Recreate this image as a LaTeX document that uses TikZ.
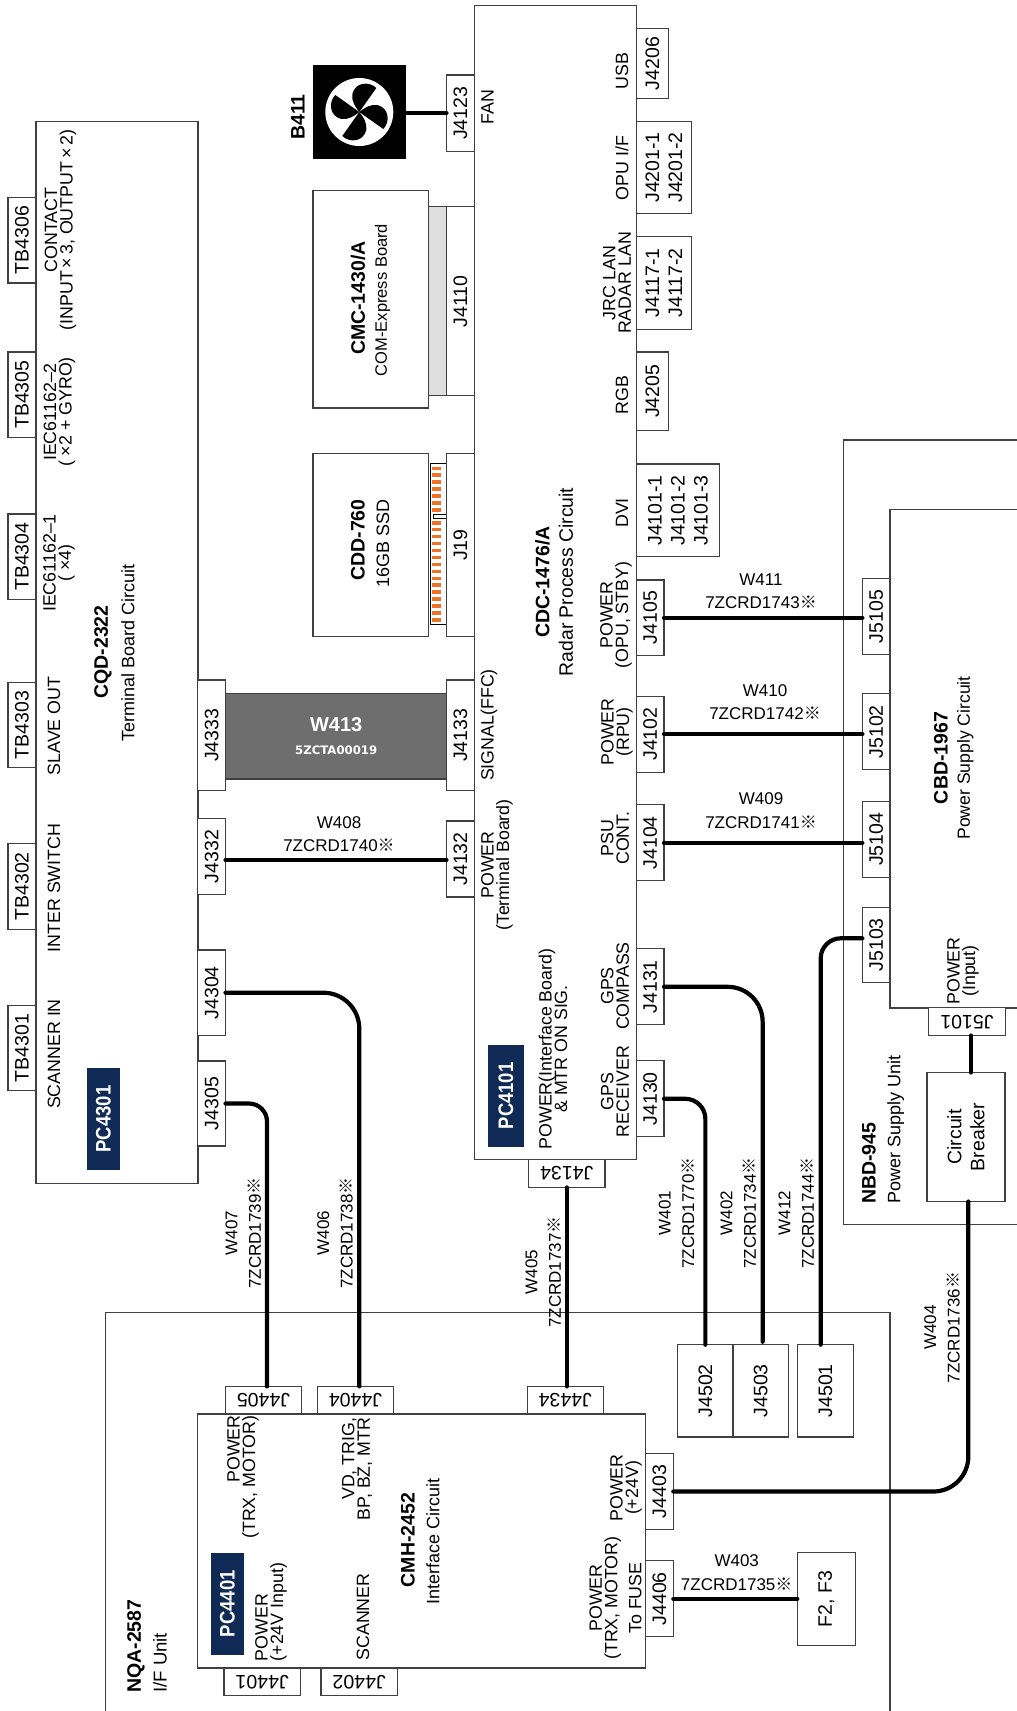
\documentclass[tikz,border=0pt]{standalone}
\usepackage{fontspec}
\setmainfont{Liberation Sans}
\newfontfamily\dvfont{DejaVu Sans}
\newfontfamily\cjk{Noto Sans CJK JP}
\usetikzlibrary{positioning}
\definecolor{navy}{HTML}{0F2A55}
\definecolor{cable}{HTML}{6E6E6E}
\definecolor{strip}{HTML}{DEDEDE}
\definecolor{bar}{HTML}{EE7228}
\setlength{\lineskiplimit}{-30pt}
\newcommand{\kome}{{\cjk ※}}
\tikzset{
  box/.style={draw=black!75,line width=1.1pt,fill=white,inner sep=0pt,outer sep=0pt,align=center,font=\fontsize{19.5}{23}\selectfont},
  board/.style={box,minimum width=#1},
  jv/.style={box,rotate=90,minimum width=#1,minimum height=27.6},
  jv/.default=76,
  jd/.style={box,rotate=180,minimum width=#1,minimum height=27.6},
  jd/.default=76.4,
  lab/.style={rotate=90,align=center,inner sep=0pt,font=\fontsize{#1}{15.5}\selectfont},
  lab/.default=17.8,
  ttl/.style={rotate=90,inner sep=0pt,font=\fontsize{19.5}{20}\selectfont\bfseries},
  sub/.style={rotate=90,inner sep=0pt,font=\fontsize{#1}{20}\selectfont},
  sub/.default=18,
  pcb/.style={fill=navy,text=white,rotate=90,inner sep=0pt,font=\fontsize{21}{22}\selectfont\bfseries},
  wlab/.style={align=center,inner sep=0pt,font=\fontsize{17}{23.5}\selectfont},
  wlabv/.style={wlab,rotate=90},
  wire/.style={line width=4.2pt,line cap=round,draw=black},
  frame/.style={draw=black!75,line width=1.1pt},
}
\begin{document}
\begin{tikzpicture}[x=1pt,y=-1pt]
\useasboundingbox (0,0) rectangle (1017,1711);
\draw[frame] (1017,440) -- (843.7,440) -- (843.7,1224.7) -- (1017,1224.7);
\draw[frame] (1017,509.3) -- (890,509.3) -- (890,1008) -- (1017,1008);
\draw[frame] (105.3,1711) -- (105.3,1312.7) -- (890,1312.7) -- (890,1711);
\node[board=162,minimum height=1061.7] (cqd) at (117,652.2) {};
\node[board=161.9,minimum height=1154] (cdc) at (555.45,582.75) {};
\node[board=115.7,minimum height=217.4] (cmc) at (370.85,299.3) {};
\node[board=115.7,minimum height=182.6] (cdd) at (370.85,545.1) {};
\node[board=448.4,minimum height=254] (cmh) at (421.5,1541) {};
\node[box,rotate=90,minimum width=85.5,minimum height=28] (TB4306) at (22,240.2) {TB4306};
\node[box,rotate=90,minimum width=85.5,minimum height=28] (TB4305) at (22,394.7) {TB4305};
\node[box,rotate=90,minimum width=85.5,minimum height=28] (TB4304) at (22,556.7) {TB4304};
\node[box,rotate=90,minimum width=85.5,minimum height=28] (TB4303) at (22,725) {TB4303};
\node[box,rotate=90,minimum width=85.5,minimum height=28] (TB4302) at (22,886.4) {TB4302};
\node[box,rotate=90,minimum width=85.5,minimum height=28] (TB4301) at (22,1048) {TB4301};
\node[jv=110.6] (J4333) at (211.7,735.3) {J4333};
\node[jv=110.6] (J4133) at (460.3,735.3) {J4133};
\node[jv] (J4332) at (211.7,856.5) {J4332};
\node[jv] (J4132) at (460.3,859) {J4132};
\node[jv=85.5] (J4304) at (211.7,992.7) {J4304};
\node[jv=85] (J4305) at (211.7,1103.5) {J4305};
\node[jv=76.5] (J4123) at (460.3,113.2) {J4123};
\node[jv=189] (J4110) at (460.3,301.2) {J4110};
\node[jv=182.6] (J19) at (460.3,545.1) {J19};
\node[box,rotate=90,minimum width=189,minimum height=18,fill=strip] (cmcs) at (437.7,301.2) {};
\node[box,rotate=90,minimum width=69.6,minimum height=32.1] (J4206) at (652.4,63.5) {J4206};
\node[box,rotate=90,minimum width=92.2,minimum height=55] (J4201) at (664,167.4) {J4201-1\\J4201-2};
\node[box,rotate=90,minimum width=92.2,minimum height=55] (J4117) at (664,283) {J4117-1\\J4117-2};
\node[box,rotate=90,minimum width=78.5,minimum height=32.1] (J4205) at (652.4,391.2) {J4205};
\node[box,rotate=90,minimum width=92.8,minimum height=83.1] (J4101) at (678,510.4) {J4101-1\\J4101-2\\J4101-3};
\node[jv=75.5] (J4105) at (650.2,617.7) {J4105};
\node[jv] (J4102) at (650.2,734.1) {J4102};
\node[jv] (J4104) at (650.2,842.8) {J4104};
\node[jv] (J4131) at (650.2,986.8) {J4131};
\node[jv] (J4130) at (650.2,1098.8) {J4130};
\node[jd] (J4134) at (566.8,1173.6) {J4134};
\node[jv] (J5105) at (876.2,616.6) {J5105};
\node[jv] (J5102) at (876.2,731.8) {J5102};
\node[jv] (J5104) at (876.2,839.2) {J5104};
\node[jv=75] (J5103) at (876.2,944.8) {J5103};
\node[jd] (J5101) at (967,1021.7) {J5101};
\node[box,rotate=90,minimum width=129,minimum height=78] (cb) at (966,1137) {Circuit\\Breaker};
\node[box,rotate=90,minimum width=92.3,minimum height=55.3] (J4502) at (705.35,1390.85) {J4502};
\node[box,rotate=90,minimum width=92.3,minimum height=55.3] (J4503) at (760.65,1390.85) {J4503};
\node[box,rotate=90,minimum width=92.3,minimum height=55.6] (J4501) at (825.5,1390.85) {J4501};
\node[jd] (J4405) at (263.5,1400.2) {J4405};
\node[jd] (J4404) at (355.5,1400.2) {J4404};
\node[jd] (J4434) at (565.3,1400.2) {J4434};
\node[jd] (J4401) at (262.2,1682) {J4401};
\node[jd] (J4402) at (359.2,1682) {J4402};
\node[jv=76.4] (J4403) at (659.5,1491.5) {J4403};
\node[jv] (J4406) at (659.5,1598.7) {J4406};
\node[box,rotate=90,minimum width=92.3,minimum height=58] (f23) at (826.3,1598.9) {F2, F3};
\node[box,fill=cable,minimum width=221,minimum height=85.3,text=white] (W413) at (336.2,736.35) {{\fontsize{20}{22.5}\selectfont\bfseries W413}\\{\dvfont\fontsize{11.7}{22.5}\selectfont\bfseries 5ZCTA00019}};
\node[fill=black,minimum width=93.3,minimum height=93.4,inner sep=0pt,outer sep=0pt] (fan) at (359.3,112) {};
\fill[white] (fan.center) circle[radius=34];
\foreach \a in {0,90,180,270}
  \fill[black,shift={(fan.center)},rotate=\a] (0,0) -- (17,-24) .. controls (10,-31) and (-4,-30) .. (-7,-18) .. controls (-8,-11) and (-4,-5) .. (0,0);
\draw[black,line width=.9pt] (446,463) -- (430,463) -- (430,624) -- (446,624);
\draw[black,line width=.9pt] (446,514.7) -- (433,514.7) -- (433,518.5) -- (446,518.5);
\foreach \i in {0,...,6}
  \fill[bar] (432,{466.5+6.95*\i}) rectangle ++(9,3.6);
\foreach \i in {0,...,14}
  \fill[bar] (432,{520.9+6.95*\i}) rectangle ++(9,3.6);
\node[pcb,minimum width=116,minimum height=33.3,xscale=.88] (pc4301) at (103.4,1119) {PC4301};
\node[pcb,minimum width=115.2,minimum height=36,xscale=.88] (pc4101) at (506,1095.9) {PC4101};
\node[pcb,minimum width=116,minimum height=33,xscale=.88] (pc4401) at (227.5,1603.8) {PC4401};
\draw[wire] (J4123.north) -- (J4123.north -| fan.east);
\draw[wire] ([yshift=-3.5pt]J4332.south) -- ([yshift=-3.5pt]J4332.south -| J4132.north);
\draw[wire] (J4105.south) -- (J4105.south -| J5105.north);
\draw[wire] (J4102.south) -- (J4102.south -| J5102.north);
\draw[wire] (J4104.south) -- (J4104.south -| J5104.north);
\draw[wire,rounded corners=36] (J4304.south) -| ([xshift=3.8pt]J4404.south);
\draw[wire,rounded corners=18] (J4305.south) -| ([xshift=3.5pt]J4405.south);
\draw[wire] (J4134.north) -- (J4134.north |- J4434.south);
\draw[wire,rounded corners=20] (J4130.south) -| (J4502.east);
\draw[wire,rounded corners=35] (J4131.south) -| ([xshift=2pt,yshift=3pt]J4503.east);
\draw[wire,rounded corners=20] ([yshift=6.5pt]J5103.north) -| ([xshift=-4.8pt]J4501.east);
\draw[wire,rounded corners=35] (J4403.south) -| ([xshift=2.3pt]cb.west);
\draw[wire] ([xshift=4pt]J5101.north) -- ([xshift=5pt]cb.east);
\draw[wire] (J4406.south) -- (J4406.south -| f23.north);
\node[lab] (lcontact) at (60.5,230) {CONTACT\\(INPUT\,×\,3, OUTPUT\,×\,2)};
\node[lab] (liec2) at (59.5,412) {IEC61162–2\\( ×2 + GYRO)};
\node[lab] (liec1) at (59,563) {IEC61162–1\\( ×4)};
\node[lab] (lslave) at (54,726) {SLAVE OUT};
\node[lab] (linter) at (54,888) {INTER SWITCH};
\node[lab] (lscan) at (54,1054) {SCANNER IN};
\node[ttl] (tcqd) at (103,652) {CQD-2322};
\node[sub] (scqd) at (128,653) {Terminal Board Circuit};
\node[ttl] (tcmc) at (358,298) {CMC-1430/A};
\node[sub=16.5] (scmc) at (382.7,300) {COM-Express Board};
\node[ttl] (tcdd) at (358,540) {CDD-760};
\node[sub] (scdd) at (383,543) {16GB SSD};
\node[sub=19.5] (bfan) at (298,117) {\bfseries B411};
\node[lab] (lfan) at (487.4,107) {FAN};
\node[lab] (lsig) at (489,725) {SIGNAL(FFC)};
\node[lab] (lpwt) at (497,865) {POWER\\(Terminal Board)};
\node[lab] (lpwi) at (553,1049) {POWER(Interface Board)\\\& MTR ON SIG.};
\node[ttl] (tcdc) at (542.6,582) {CDC-1476/A};
\node[sub=19.4] (scdc) at (566,582) {Radar Process Circuit};
\node[lab] (lusb) at (622,71) {USB};
\node[lab] (lopu) at (622,168) {OPU I/F};
\node[lab] (llan) at (617,283) {JRC LAN\\RADAR LAN};
\node[lab] (lrgb) at (622,395) {RGB};
\node[lab] (ldvi) at (622,513) {DVI};
\node[lab] (lpop) at (616,615) {POWER\\(OPU, STBY)};
\node[lab] (lprp) at (617,732) {POWER\\(RPU)};
\node[lab] (lpsu) at (615,838) {PSU\\CONT.};
\node[lab] (lcmp) at (615,986) {GPS\\COMPASS};
\node[lab] (lrcv) at (615,1091.5) {GPS\\RECEIVER};
\node[ttl] (tcbd) at (941,758) {CBD-1967};
\node[sub=17.6] (scbd) at (965.4,758) {Power Supply Circuit};
\node[lab] (lpin) at (963,971) {POWER\\(Input)};
\node[ttl,anchor=west] (tnbd) at (869,1204) {NBD-945};
\node[sub,anchor=west] (snbd) at (895.7,1204) {Power Supply Unit};
\node[ttl,anchor=west] (tnqa) at (136,1693) {NQA-2587};
\node[sub=18.6,anchor=west] (snqa) at (160,1693) {I/F Unit};
\node[ttl] (tcmh) at (408,1540) {CMH-2452};
\node[sub] (scmh) at (433,1541) {Interface Circuit};
\node[lab,align=right] (lptm) at (243,1477) {POWER\\(TRX, MOTOR)};
\node[lab,align=left] (lp24) at (271,1612) {POWER\\(+24V Input)};
\node[lab,align=right] (lvd) at (357,1469) {VD, TRIG,\\BP, BZ, MTR};
\node[lab] (lsc) at (363,1617) {SCANNER};
\node[lab] (lp24v) at (626,1488) {POWER\\(+24V)};
\node[lab] (lpfu) at (615.5,1598) {POWER\\(TRX, MOTOR)\\[8.5pt]To FUSE};
\node[wlab] (w408) at (339,834) {W408\\7ZCRD1740\kome};
\node[wlab] (w411) at (761,591) {W411\\7ZCRD1743\kome};
\node[wlab] (w410) at (765,702) {W410\\7ZCRD1742\kome};
\node[wlab] (w409) at (761,810.5) {W409\\7ZCRD1741\kome};
\node[wlab] (w403) at (736.7,1572.5) {W403\\7ZCRD1735\kome};
\node[wlabv] (w407) at (243.3,1233) {W407\\7ZCRD1739\kome};
\node[wlabv] (w406) at (335,1233) {W406\\7ZCRD1738\kome};
\node[wlabv] (w405) at (543.3,1272) {W405\\7ZCRD1737\kome};
\node[wlabv] (w401) at (676.5,1213) {W401\\7ZCRD1770\kome};
\node[wlabv] (w402) at (738.3,1213) {W402\\7ZCRD1734\kome};
\node[wlabv] (w412) at (796.3,1213) {W412\\7ZCRD1744\kome};
\node[wlabv] (w404) at (942,1327.5) {W404\\7ZCRD1736\kome};
\end{tikzpicture}
\end{document}
